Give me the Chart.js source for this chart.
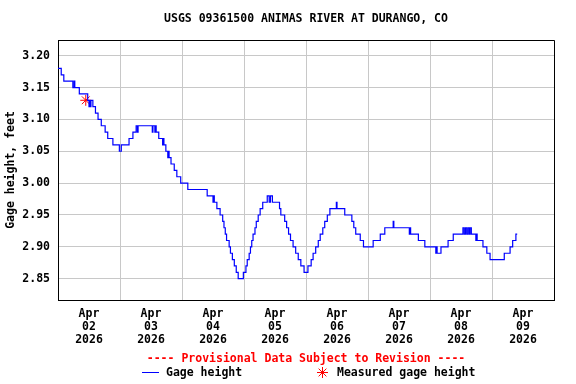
<!DOCTYPE html>
<html lang="en">
<head>
<meta charset="UTF-8">
<title>USGS 09361500 Animas River at Durango, CO</title>
<script src="https://cdn.jsdelivr.net/npm/chart.js"></script>
<style>
    html, body {
        margin: 0;
        padding: 0;
        background: #ffffff;
    }
    canvas { display: block; }
</style>
</head>
<body>
<canvas id="gageChart" width="576" height="384"></canvas>

<script>
    // gage height steps: hours since Apr 02 2026 00:00, and value in feet from that hour on
    const hours = [
        0, 1.25, 2.25, 5.75, 6.25, 6.5, 8.25, 11.5, 12, 12.25, 12.5, 12.75, 13.5, 14.5, 15.5, 16.75, 18.25, 19.25, 21.25,
        23.75, 24.5, 27.5, 29, 30.25, 30.75, 31, 36.5, 36.75, 37.5, 37.75, 38, 39, 40.5, 40.75, 41, 41.75, 42.5, 42.75,
        43, 43.75, 45, 46, 47.5, 50.25, 57.75, 60, 60.25, 60.5, 61.5, 62.75, 63.75, 64.25, 64.75, 65.25, 66.25, 66.75,
        67.5, 68.25, 69, 69.75, 71.75, 72.75, 73.25, 74, 74.5, 75, 75.5, 76.25, 76.75, 77.5, 78.25, 79.25, 81, 81.75,
        82.25, 83, 85.75, 86.25, 87.75, 88.5, 89.25, 90, 91, 92, 93, 94, 95.25, 96.75, 98, 98.75, 99.75, 100.75, 101.5,
        102.5, 103.25, 104.25, 105.25, 107.75, 108, 111, 113.75, 114.5, 115.25, 117, 118.25, 122, 124.75, 126.5, 129.75,
        130, 136, 136.25, 136.5, 139.5, 142, 146.25, 146.5, 146.75, 148.25, 151, 153, 156.75, 157.25, 157.75, 158.25,
        158.75, 159.25, 159.5, 160, 161.75, 162, 162.25, 164.5, 166, 167.25, 172.75, 175, 176, 177.25, 177.75
    ];
    const gageHeight = [
        3.18, 3.17, 3.16, 3.15, 3.16, 3.15, 3.14, 3.13, 3.12, 3.13, 3.12, 3.13, 3.12, 3.11, 3.10, 3.09, 3.08, 3.07, 3.06,
        3.05, 3.06, 3.07, 3.08, 3.09, 3.08, 3.09, 3.08, 3.09, 3.08, 3.09, 3.08, 3.07, 3.06, 3.07, 3.06, 3.05, 3.04, 3.05,
        3.04, 3.03, 3.02, 3.01, 3.00, 2.99, 2.98, 2.97, 2.98, 2.97, 2.96, 2.95, 2.94, 2.93, 2.92, 2.91, 2.90, 2.89,
        2.88, 2.87, 2.86, 2.85, 2.86, 2.87, 2.88, 2.89, 2.90, 2.91, 2.92, 2.93, 2.94, 2.95, 2.96, 2.97, 2.98, 2.97,
        2.98, 2.97, 2.96, 2.95, 2.94, 2.93, 2.92, 2.91, 2.90, 2.89, 2.88, 2.87, 2.86, 2.87, 2.88, 2.89, 2.90, 2.91, 2.92,
        2.93, 2.94, 2.95, 2.96, 2.97, 2.96, 2.95, 2.94, 2.93, 2.92, 2.91, 2.90, 2.91, 2.92, 2.93, 2.94,
        2.93, 2.92, 2.93, 2.92, 2.91, 2.90, 2.89, 2.90, 2.89, 2.90, 2.91, 2.92, 2.93, 2.92, 2.93, 2.92,
        2.93, 2.92, 2.93, 2.92, 2.91, 2.92, 2.91, 2.90, 2.89, 2.88, 2.89, 2.90, 2.91, 2.92, 2.92
    ];

    // field measurement
    const measuredHours = [10.75];
    const measuredHeight = [3.13];

    // axis labels
    const dayLabels = ['02', '03', '04', '05', '06', '07', '08', '09'];
    const monthLabel = 'Apr';
    const yearLabel = '2026';
    const yTicks = [2.85, 2.90, 2.95, 3.00, 3.05, 3.10, 3.15, 3.20];

    const FONT = 'DejaVu Sans Mono';
    const GRID = '#c8c8c8';

    // top and right edges of the plot box (left/bottom come from the axes)
    const framePlugin = {
        id: 'frame',
        afterDatasetsDraw(chart) {
            const { ctx, chartArea: a } = chart;
            const l = Math.round(a.left) + 0.5, t = Math.round(a.top) + 0.5;
            const r = Math.round(a.right) + 0.5, b = Math.round(a.bottom) + 0.5;
            ctx.save();
            ctx.strokeStyle = '#000000';
            ctx.lineWidth = 1;
            ctx.beginPath();
            ctx.moveTo(l, t);
            ctx.lineTo(r, t);
            ctx.lineTo(r, b);
            ctx.stroke();
            ctx.restore();
        }
    };

    // provisional note + legend under the x axis
    const footerPlugin = {
        id: 'footer',
        afterDraw(chart) {
            const ctx = chart.ctx;
            const mid = (chart.chartArea.left + chart.chartArea.right) / 2;
            ctx.save();
            ctx.font = 'bold 11.5px "' + FONT + '"';
            ctx.textBaseline = 'middle';

            ctx.textAlign = 'center';
            ctx.fillStyle = '#ff0000';
            ctx.fillText('---- Provisional Data Subject to Revision ----', mid, 359);

            ctx.textAlign = 'left';
            ctx.strokeStyle = '#0000ff';
            ctx.lineWidth = 1;
            ctx.beginPath();
            ctx.moveTo(142, 372.5);
            ctx.lineTo(159, 372.5);
            ctx.stroke();
            ctx.fillStyle = '#000000';
            ctx.fillText('Gage height', 166, 373);

            // asterisk
            ctx.strokeStyle = '#ff0000';
            ctx.beginPath();
            for (let k = 0; k < 4; k++) {
                const ang = k * Math.PI / 4;
                const dx = Math.cos(ang) * 5.5, dy = Math.sin(ang) * 5.5;
                ctx.moveTo(322.5 - dx, 372.5 - dy);
                ctx.lineTo(322.5 + dx, 372.5 + dy);
            }
            ctx.stroke();
            ctx.fillStyle = '#000000';
            ctx.fillText('Measured gage height', 337, 373);
            ctx.restore();
        }
    };

    const gageData = hours.map((h, i) => ({ x: h, y: gageHeight[i] }));
    const measuredData = measuredHours.map((h, i) => ({ x: h, y: measuredHeight[i] }));

    new Chart(document.getElementById('gageChart').getContext('2d'), {
        type: 'line',
        data: {
            datasets: [{
                label: 'Gage height',
                data: gageData,
                borderColor: '#0000ff',
                borderWidth: 1.2,
                stepped: true,
                pointRadius: 0,
                fill: false
            }, {
                label: 'Measured gage height',
                data: measuredData,
                showLine: false,
                pointStyle: 'star',
                pointRadius: 5.5,
                borderColor: '#ff0000',
                backgroundColor: '#ff0000',
                pointBorderWidth: 1
            }]
        },
        options: {
            responsive: false,
            animation: false,
            layout: { padding: { left: 0, right: 22, top: 0, bottom: 0 } },
            plugins: {
                legend: { display: false },
                tooltip: { enabled: false },
                title: {
                    display: true,
                    text: 'USGS 09361500 ANIMAS RIVER AT DURANGO, CO',
                    color: '#000000',
                    font: { family: FONT, size: 11.5, weight: 'bold', lineHeight: 1.2 },
                    padding: { top: 12, bottom: 14.2 },
                    fullSize: false
                }
            },
            scales: {
                x: {
                    type: 'linear',
                    min: 0,
                    max: 192,
                    afterBuildTicks: (scale) => {
                        const t = [];
                        for (let v = 0; v <= 192; v += 12) t.push({ value: v });
                        scale.ticks = t;
                    },
                    afterFit: (scale) => { scale.height = 84; },
                    ticks: {
                        autoSkip: false,
                        maxRotation: 0,
                        padding: 8,
                        color: '#000000',
                        font: { family: FONT, size: 11.5, weight: 'bold', lineHeight: 1.1 },
                        callback: (value) => {
                            if (value % 24 !== 12) return '';
                            return [monthLabel, dayLabels[(value - 12) / 24], yearLabel];
                        }
                    },
                    grid: {
                        drawTicks: false,
                        color: (c) => (c.tick && c.tick.value % 24 === 0) ? GRID : 'rgba(0,0,0,0)'
                    },
                    border: { display: true, color: '#000000' }
                },
                y: {
                    min: 2.8166,
                    max: 3.2246,
                    afterBuildTicks: (scale) => {
                        scale.ticks = yTicks.map(v => ({ value: v }));
                    },
                    afterFit: (scale) => { scale.width = 58; },
                    ticks: {
                        padding: 8,
                        color: '#000000',
                        font: { family: FONT, size: 11.5, weight: 'bold' },
                        callback: (value) => value.toFixed(2)
                    },
                    grid: { drawTicks: false, color: GRID },
                    border: { display: true, color: '#000000' },
                    title: {
                        display: true,
                        text: 'Gage height, feet',
                        color: '#000000',
                        font: { family: FONT, size: 11.5, weight: 'bold', lineHeight: 1.2 },
                        padding: { top: 4, bottom: 0 }
                    }
                }
            }
        },
        plugins: [framePlugin, footerPlugin]
    });
</script>
</body>
</html>
